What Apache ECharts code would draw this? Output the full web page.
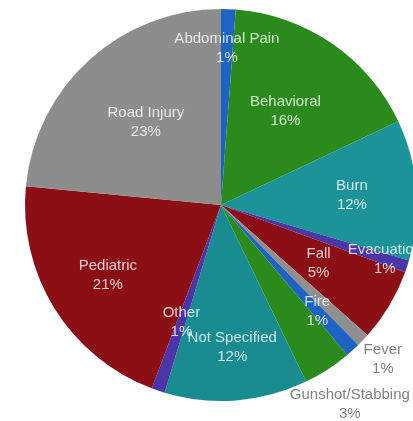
<!DOCTYPE html>
<html>
<head>
<meta charset="utf-8">
<script src="https://cdn.jsdelivr.net/npm/echarts@6/dist/echarts.min.js"></script>
<style>
html,body{margin:0;padding:0;background:#fff;}
#chart{width:413px;height:421px;}
</style>
</head>
<body>
<div id="chart"></div>
<script>
// Data (shares of the pie, clockwise from 12 o'clock)
const categories = ['Abdominal Pain','Behavioral','Burn','Evacuation','Fall','Fever','Fire','Gunshot/Stabbing','Not Specified','Other','Pediatric','Road Injury'];
const values = [1.2, 16.8, 11.6, 1.0, 6.0, 1.1, 1.2, 4.0, 11.8, 1.1, 20.8, 23.5];
const pctLabels = ['1%','16%','12%','1%','5%','1%','1%','3%','12%','1%','21%','23%'];

// Styling (not data)
const colors = ['#1e62c4','#2a8b1c','#1b9398','#4a36a6','#8b0f14','#8f8f8f','#1e62c4','#2a8b1c','#188c91','#4a36a6','#8b0f14','#8d8d8d'];
const labelRadiusFrac = [0.80,0.58,0.67,0.88,0.58,1.14,0.73,1.21,0.73,0.63,0.68,0.57];
const outsideLabel = [false,false,false,false,false,true,false,true,false,false,false,false];

const CX = 221, CY = 205, R = 196;
const total = values.reduce((a,b)=>a+b,0);
const midAngles = [];
let acc = 0;
values.forEach(v => { midAngles.push((acc + v/2) / total * 2 * Math.PI); acc += v; });

const chart = echarts.init(document.getElementById('chart'), null, {renderer:'canvas'});
chart.setOption({
  animation: false,
  series: [{
    type: 'pie',
    center: [CX, CY],
    radius: R,
    startAngle: 90,
    clockwise: true,
    silent: true,
    data: categories.map((c,i)=>({
      name: c,
      value: values[i],
      itemStyle: {color: colors[i]},
      label: {color: outsideLabel[i] ? '#808080' : 'rgba(255,255,255,0.8)'}
    })),
    label: {
      show: true,
      position: 'inside',
      fontFamily: 'Liberation Sans, Arial, sans-serif',
      fontSize: 15,
      lineHeight: 19,
      align: 'center',
      formatter: p => p.name + '\n' + pctLabels[p.dataIndex]
    },
    labelLine: {show:false},
    labelLayout: function (p) {
      const i = p.dataIndex;
      const a = midAngles[i];
      const d = labelRadiusFrac[i] * R;
      return {
        x: CX + d * Math.sin(a),
        y: CY - d * Math.cos(a),
        align: 'center',
        verticalAlign: 'middle'
      };
    }
  }]
});
</script>
</body>
</html>
